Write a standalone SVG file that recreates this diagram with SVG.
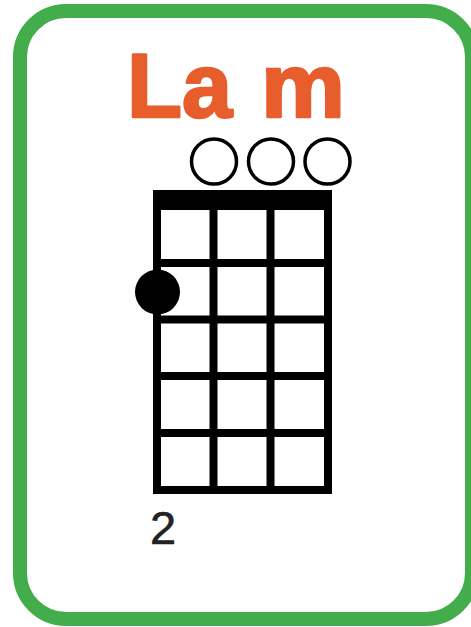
<svg xmlns="http://www.w3.org/2000/svg" width="471" height="627" viewBox="0 0 471 627">
  <style>
    .frame { fill: #ffffff; stroke: #43ad4b; stroke-width: 14; }
    .title { font-family: "Liberation Sans", Arial, sans-serif; font-weight: bold; font-size: 90px; fill: #e85d2c; stroke: #e85d2c; stroke-width: 2.5; stroke-linejoin: round; }
    .fret { stroke: #000; stroke-width: 8; fill: none; }
    .open { fill: #fff; stroke: #000; stroke-width: 3.5; }
    .label { font-family: "Liberation Sans", Arial, sans-serif; font-size: 47px; fill: #222; stroke: #222; stroke-width: 0.6; }
  </style>
  <rect width="471" height="627" fill="#ffffff"/>
  <g id="card">
    <rect class="frame" x="20" y="11" width="452" height="608" rx="46" ry="46"/>
  </g>
  <g id="title">
    <text class="title" x="127" y="117">La</text>
    <text class="title" x="261" y="117" textLength="84" lengthAdjust="spacingAndGlyphs">m</text>
  </g>
  <g id="open-strings">
    <circle class="open" cx="214" cy="161.5" r="22.5"/>
    <circle class="open" cx="271" cy="161.5" r="22.5"/>
    <circle class="open" cx="327.5" cy="161.5" r="22.5"/>
  </g>
  <g id="fretboard">
    <rect x="153" y="190" width="179" height="20" fill="#000"/>
    <line class="fret" x1="157" y1="190" x2="157" y2="494"/>
    <line class="fret" x1="213.5" y1="190" x2="213.5" y2="494"/>
    <line class="fret" x1="270.5" y1="190" x2="270.5" y2="494"/>
    <line class="fret" x1="328" y1="190" x2="328" y2="494"/>
    <line class="fret" x1="153" y1="263" x2="332" y2="263"/>
    <line class="fret" x1="153" y1="319.5" x2="332" y2="319.5"/>
    <line class="fret" x1="153" y1="376" x2="332" y2="376"/>
    <line class="fret" x1="153" y1="433" x2="332" y2="433"/>
    <line class="fret" x1="153" y1="490" x2="332" y2="490"/>
  </g>
  <g id="finger">
    <circle cx="157.5" cy="292" r="22.5" fill="#000"/>
  </g>
  <g id="fret-number">
    <text class="label" x="150" y="544">2</text>
  </g>
</svg>
